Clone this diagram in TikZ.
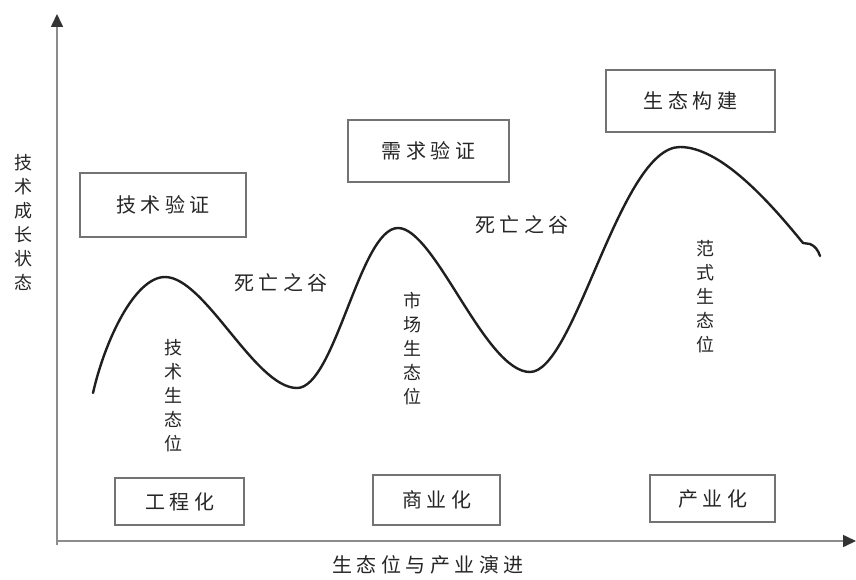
\documentclass[tikz,border=0pt]{standalone}
\usepackage{fontspec}
\newfontfamily\cjk{Noto Sans CJK SC}
\usetikzlibrary{arrows.meta}
\newcommand\kk{\kern4.5pt}
\tikzset{
  boxnode/.style={draw=black!55, line width=1.8pt, inner sep=0pt, font=\cjk\fontsize{20}{24}\selectfont, text=black!85},
  hlabel/.style={inner sep=0pt, font=\cjk\fontsize{20}{24}\selectfont, text=black!85},
  vlabel/.style={inner sep=0pt, align=center, font=\cjk\fontsize{18}{24}\selectfont, text=black!85},
  axisline/.style={draw=black!45, line width=1.6pt, -{Triangle[length=13pt,width=12pt,color=black!80]}},
  growth/.style={draw=black!88, line width=2.4pt, line cap=round, line join=round}
}
\begin{document}
\begin{tikzpicture}[x=1pt,y=-1pt]
\useasboundingbox (0,0) rectangle (856,580);
\fill[white] (0,0) rectangle (856,580);
% axes
\coordinate (origin) at (57,545);
\coordinate (ytop) at (57,14);
\coordinate (xstart) at (57,541);
\coordinate (xend) at (856,541);
\draw[axisline] (origin) -- (ytop);
\draw[axisline] (xstart) -- (xend);
% axis labels
\node[vlabel] (ylab) at (23,222) {技\\术\\成\\长\\状\\态};
\node[hlabel] (xlab) at (428,565) {生\kk 态\kk 位\kk 与\kk 产\kk 业\kk 演\kk 进};
% top boxes
\node[boxnode, minimum width=166pt, minimum height=64pt] (b1) at (163,205) {技\kk 术\kk 验\kk 证};
\node[boxnode, minimum width=161pt, minimum height=62pt] (b2) at (428.5,151) {需\kk 求\kk 验\kk 证};
\node[boxnode, minimum width=169pt, minimum height=62pt] (b3) at (690.5,101) {生\kk 态\kk 构\kk 建};
% bottom boxes
\node[boxnode, minimum width=129pt, minimum height=47pt] (b4) at (179.5,501.5) {工\kk 程\kk 化};
\node[boxnode, minimum width=127pt, minimum height=50pt] (b5) at (436.5,500) {商\kk 业\kk 化};
\node[boxnode, minimum width=125pt, minimum height=47pt] (b6) at (712.5,498.5) {产\kk 业\kk 化};
% valley labels
\node[hlabel] (d1) at (281,283) {死\kk 亡\kk 之\kk 谷};
\node[hlabel] (d2) at (522,225) {死\kk 亡\kk 之\kk 谷};
% niche labels
\node[vlabel] (n1) at (173,396) {技\\术\\生\\态\\位};
\node[vlabel] (n2) at (412,349) {市\\场\\生\\态\\位};
\node[vlabel] (n3) at (705,297) {范\\式\\生\\态\\位};
% growth curve
\draw[growth] (93,393)
  .. controls (105,340) and (135,277) .. (165,277)
  .. controls (205,277) and (255,388) .. (297,388)
  .. controls (335,388) and (360,228) .. (398,228)
  .. controls (435,228) and (485,372) .. (530,372)
  .. controls (575,372) and (620,147) .. (680,147)
  .. controls (720,147) and (768,200) .. (803,243)
  -- (810,244)
  .. controls (815,246) and (818,250) .. (820,256);
\end{tikzpicture}
\end{document}
